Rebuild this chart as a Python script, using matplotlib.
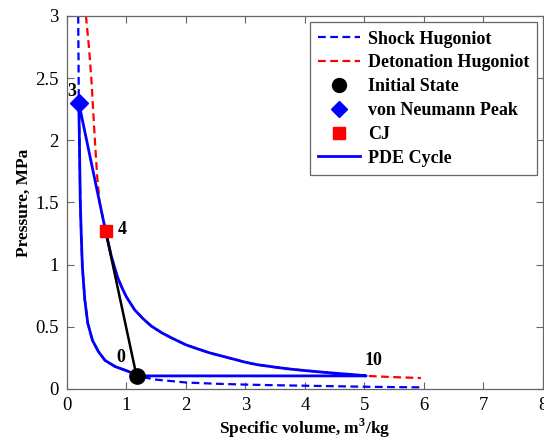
import numpy as np
import matplotlib
matplotlib.use("Agg")
import matplotlib.pyplot as plt
from matplotlib.lines import Line2D

plt.rcParams['font.family'] = ['Liberation Serif', 'DejaVu Serif']
plt.rcParams['mathtext.fontset'] = 'custom'
plt.rcParams['mathtext.rm'] = 'Liberation Serif'
plt.rcParams['mathtext.bf'] = 'Liberation Serif:bold'

# Shock Hugoniot (specific volume m3/kg, pressure MPa)
shock_v = [0.19, 0.20, 0.21, 0.224, 0.24, 0.26, 0.30, 0.35, 0.43, 0.53, 0.64, 0.81, 1.04, 1.17,
           1.5, 2.0, 2.5, 3.0, 3.5, 4.0, 4.5, 5.0, 5.5, 5.95]
shock_p = [3.00, 2.30, 2.00, 1.52, 1.25, 0.98, 0.72, 0.53, 0.39, 0.30, 0.23, 0.18, 0.14, 0.105,
           0.075, 0.052, 0.042, 0.035, 0.03, 0.026, 0.022, 0.018, 0.015, 0.013]

# Detonation Hugoniot (upper branch to CJ, and tail beyond state 10)
det_upper_v = [0.32, 0.37, 0.41, 0.47, 0.51, 0.55, 0.65]
det_upper_p = [3.00, 2.75, 2.50, 2.00, 1.70, 1.50, 1.27]
det_tail_v = [5.03, 5.5, 5.95]
det_tail_p = [0.105, 0.095, 0.088]

# Isentropic expansion from CJ (4) to state 10
isen_v = [0.65, 0.75, 0.85, 0.92, 1.00, 1.14, 1.28, 1.42, 1.60, 1.76, 2.00, 2.15, 2.40, 2.60,
          3.00, 3.20, 3.50, 3.75, 4.00, 4.30, 4.60, 4.87, 5.03]
isen_p = [1.27, 1.06, 0.90, 0.82, 0.74, 0.635, 0.565, 0.505, 0.45, 0.41, 0.355, 0.33, 0.29, 0.265,
          0.215, 0.195, 0.175, 0.16, 0.148, 0.135, 0.123, 0.113, 0.105]

# States
state0 = (1.17, 0.105)   # initial state
state3 = (0.20, 2.30)    # von Neumann peak
state4 = (0.65, 1.27)    # CJ
state10 = (5.03, 0.105)

fig = plt.figure(figsize=(5.44, 4.40), dpi=100)
ax = fig.add_axes([0.123, 0.116, 0.875, 0.848])

blue = (0, 0, 1)
red = (1, 0, 0)

# Shock Hugoniot dashed
ax.plot(shock_v, shock_p, '--', color=blue, lw=1.6, dashes=(3.5, 2))
# Detonation Hugoniot dashed
det_v = det_upper_v + isen_v[1:] + det_tail_v[1:]
det_p = det_upper_p + isen_p[1:] + det_tail_p[1:]
ax.plot(det_v, det_p, '--', color=red, lw=1.6, dashes=(3.5, 2))

# PDE cycle: 0 -> shock Hugoniot -> 3 -> Rayleigh -> 4 -> isentrope -> 10 -> isobaric -> 0
i0 = shock_v.index(state0[0])
i3 = shock_v.index(state3[0])
cyc_v = shock_v[i0:i3 - 1:-1] + [state4[0]] + isen_v[1:] + [state10[0], state0[0]]
cyc_p = shock_p[i0:i3 - 1:-1] + [state4[1]] + isen_p[1:] + [state10[1], state0[1]]
ax.plot(cyc_v, cyc_p, '-', color=blue, lw=2.0, solid_joinstyle='round')

# Rayleigh line 0 -> 4
ax.plot([state0[0], state4[0]], [state0[1], state4[1]], '-', color='black', lw=1.8)

ax.plot(*state0, 'o', color='black', ms=11)
ax.plot(*state3, 'D', color=blue, ms=9)
ax.plot(*state4, 's', color=red, ms=9)

tkw = dict(fontsize=13, fontweight='bold', color='black')
ax.text(0.08, 2.39, '3', ha='center', va='center', **tkw)
ax.text(0.93, 1.28, '4', ha='center', va='center', **tkw)
ax.text(0.91, 0.25, '0', ha='center', va='center', **tkw)
ax.text(5.16, 0.23, '10', ha='center', va='center', **tkw)

ax.set_xlim(0, 8)
ax.set_ylim(0, 3)
ax.set_xticks(range(0, 9))
ax.set_yticks([0, 0.5, 1, 1.5, 2, 2.5, 3])
ax.set_yticklabels(['0', '0.5', '1', '1.5', '2', '2.5', '3'])
ax.tick_params(direction='in', top=True, right=True, length=5, width=0.8,
               color='#666666', labelsize=13.5, pad=6)
for s in ax.spines.values():
    s.set_color('#666666')
    s.set_linewidth(0.9)

ax.set_xlabel('Specific volume, m$^{\\mathbf{3}}$/kg', fontsize=12.5, fontweight='bold', labelpad=2)
ax.set_ylabel('Pressure, MPa', fontsize=12.5, fontweight='bold', labelpad=2)

handles = [
    Line2D([], [], ls='--', color=blue, lw=1.6, dashes=(3.5, 2)),
    Line2D([], [], ls='--', color=red, lw=1.6, dashes=(3.5, 2)),
    Line2D([], [], ls='none', marker='o', color='black', ms=10),
    Line2D([], [], ls='none', marker='D', color=blue, ms=8),
    Line2D([], [], ls='none', marker='s', color=red, ms=8),
    Line2D([], [], ls='-', color=blue, lw=2.0),
]
labels = ['Shock Hugoniot', 'Detonation Hugoniot', 'Initial State', 'von Neumann Peak', 'CJ', 'PDE Cycle']
leg = ax.legend(handles, labels, loc='upper right', bbox_to_anchor=(1.0, 0.997),
                prop={'family': 'Liberation Serif', 'weight': 'bold', 'size': 13},
                fancybox=False, framealpha=1, edgecolor='#666666', handlelength=2.3,
                handletextpad=0.45, labelspacing=0.38, borderpad=0.45, borderaxespad=0.3)
leg.get_frame().set_linewidth(0.9)

fig.savefig('out.png', dpi=100)
